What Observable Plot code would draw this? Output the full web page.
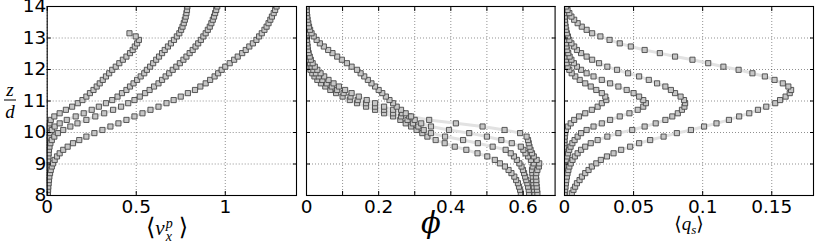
<!DOCTYPE html>
<html><head><meta charset="utf-8">
<script src="https://cdn.jsdelivr.net/npm/d3@7"></script>
<script src="https://cdn.jsdelivr.net/npm/@observablehq/plot@0.6"></script>
<style>
body{margin:0;background:#fff;}
#wrap{position:relative;width:830px;height:245px;overflow:hidden;}
.panel{position:absolute;top:0;}
.lab{position:absolute;color:#000;white-space:nowrap;transform:translate(-50%,-50%);font-family:"Liberation Serif","DejaVu Serif",serif;line-height:1;}
.lab i{font-style:italic;}
.br{font-family:"DejaVu Sans";font-style:normal;}
.ss{display:inline-flex;flex-direction:column;vertical-align:middle;line-height:0.95;font-size:14px;font-style:italic;margin-left:1px;}
</style></head><body><div id="wrap"></div>
<script>
// z/d levels (shared by all profiles)
const z = [8.07,8.18,8.28,8.39,8.49,8.60,8.71,8.81,8.92,9.02,9.13,9.24,9.34,9.45,9.55,9.66,9.76,9.87,9.98,10.08,
  10.19,10.29,10.40,10.51,10.61,10.72,10.82,10.93,11.03,11.14,11.25,11.35,11.46,11.56,11.67,11.78,11.88,11.99,12.09,12.20,
  12.31,12.41,12.52,12.62,12.73,12.83,12.94,13.05,13.15,13.26,13.36,13.47,13.58,13.68,13.79,13.89,14.00];

// <v_x^p> profiles
const vx1 = [0.000,0.000,0.001,0.001,0.001,0.001,0.002,0.002,0.002,0.003,0.003,0.004,0.004,0.005,0.005,0.006,0.006,0.007,0.008,0.009,
  0.010,0.013,0.020,0.040,0.070,0.105,0.140,0.172,0.198,0.220,0.240,0.260,0.278,0.295,0.312,0.330,0.348,0.365,0.385,0.405,
  0.425,0.445,0.465,0.480,0.492,0.505,0.515,0.497,0.462];
const vx2 = [0.001,0.001,0.001,0.001,0.002,0.002,0.002,0.002,0.003,0.003,0.003,0.004,0.004,0.005,0.006,0.007,0.009,0.012,0.017,0.026,
  0.042,0.070,0.110,0.160,0.205,0.250,0.290,0.330,0.365,0.395,0.420,0.445,0.465,0.485,0.505,0.525,0.545,0.560,0.578,0.595,
  0.612,0.628,0.645,0.660,0.678,0.695,0.712,0.728,0.742,0.752,0.760,0.767,0.773,0.778,0.782,0.785,0.787];
const vx3 = [0.002,0.002,0.002,0.003,0.003,0.003,0.004,0.004,0.005,0.005,0.006,0.007,0.008,0.010,0.013,0.018,0.026,0.040,0.060,0.090,
  0.130,0.170,0.220,0.270,0.320,0.370,0.415,0.455,0.490,0.520,0.550,0.575,0.600,0.625,0.645,0.665,0.685,0.705,0.725,0.745,
  0.765,0.782,0.800,0.817,0.833,0.848,0.863,0.877,0.890,0.902,0.913,0.922,0.930,0.937,0.943,0.949,0.955];
const vx4 = [0.004,0.005,0.006,0.008,0.010,0.012,0.016,0.020,0.026,0.033,0.042,0.055,0.070,0.090,0.115,0.145,0.180,0.220,0.265,0.310,
  0.355,0.400,0.445,0.490,0.535,0.580,0.625,0.670,0.710,0.750,0.790,0.830,0.860,0.890,0.915,0.940,0.960,0.980,1.000,1.025,
  1.050,1.070,1.095,1.115,1.135,1.155,1.175,1.190,1.205,1.220,1.232,1.243,1.253,1.262,1.272,1.280,1.288];

// phi profiles
const phi1 = [0.594,0.592,0.589,0.586,0.581,0.576,0.568,0.560,0.550,0.536,0.522,0.501,0.474,0.443,0.411,0.383,0.358,0.335,0.321,0.305,
  0.290,0.275,0.260,0.240,0.215,0.190,0.165,0.140,0.120,0.100,0.082,0.066,0.052,0.040,0.030,0.022,0.016,0.011,0.008,0.005,
  0.003,0.002,0.001,0.001,0.0005,0,0,0,0,0,0,0,0,0,0,0,0];
const phi2 = [0.617,0.616,0.614,0.612,0.609,0.606,0.603,0.600,0.596,0.590,0.583,0.575,0.566,0.552,0.516,0.475,0.434,0.384,0.345,0.325,
  0.310,0.295,0.280,0.262,0.240,0.215,0.190,0.165,0.142,0.122,0.103,0.085,0.070,0.056,0.044,0.034,0.026,0.019,0.014,0.010,
  0.007,0.005,0.003,0.002,0.001,0.001,0.0005,0,0,0,0,0,0,0,0,0,0];
const phi3 = [0.632,0.631,0.630,0.629,0.628,0.627,0.626,0.625,0.627,0.630,0.622,0.614,0.607,0.601,0.594,0.569,0.540,0.500,0.451,0.395,
  0.345,0.318,0.300,0.285,0.265,0.240,0.215,0.190,0.167,0.145,0.125,0.107,0.090,0.075,0.061,0.049,0.039,0.030,0.023,0.017,
  0.012,0.009,0.006,0.004,0.003,0.002,0.001,0.001,0.0005,0,0,0,0,0,0,0,0];
const phi4 = [0.640,0.639,0.638,0.637,0.637,0.636,0.637,0.640,0.644,0.645,0.638,0.630,0.625,0.621,0.618,0.616,0.614,0.610,0.592,0.549,
  0.488,0.414,0.340,0.290,0.275,0.262,0.250,0.240,0.230,0.220,0.210,0.200,0.190,0.180,0.170,0.160,0.150,0.140,0.125,0.112,
  0.098,0.085,0.072,0.060,0.048,0.037,0.028,0.020,0.014,0.010,0.007,0.005,0.003,0.002,0.001,0.0005,0];

// <q_s> profiles
const qs1 = [0,0,0,0,0,0,0,0,0,0,0,0,0,0,0,0,0,0.0002,0.0005,0.001,
  0.0025,0.0045,0.007,0.0105,0.015,0.0198,0.024,0.027,0.0302,0.0295,0.027,0.023,0.019,0.015,0.011,0.0078,0.0052,0.0035,0.0023,0.0015,
  0.001,0.0006,0.0004,0.0002,0.0001,0.0001,0,0,0,0,0,0,0,0,0,0,0];
const qs2 = [0,0,0.0001,0.0002,0.0003,0.0004,0.0005,0.0007,0.0009,0.0012,0.0015,0.002,0.0026,0.0034,0.0044,0.0057,0.0073,0.0095,0.012,0.016,
  0.021,0.027,0.033,0.040,0.047,0.053,0.057,0.0589,0.057,0.054,0.050,0.045,0.039,0.033,0.027,0.021,0.016,0.012,0.009,0.0068,
  0.005,0.0037,0.0027,0.002,0.0014,0.001,0.0007,0.0005,0.0003,0.0002,0.0001,0.0001,0,0,0,0,0];
const qs3 = [0,0.0005,0.0007,0.001,0.0013,0.0017,0.0022,0.0028,0.0035,0.0045,0.0058,0.0075,0.0095,0.012,0.015,0.019,0.024,0.031,0.039,0.049,
  0.058,0.066,0.073,0.078,0.082,0.085,0.0868,0.0873,0.0865,0.084,0.080,0.077,0.073,0.067,0.061,0.054,0.046,0.038,0.031,0.025,
  0.020,0.016,0.012,0.009,0.007,0.005,0.0035,0.0025,0.0017,0.0012,0.0008,0.0005,0.0003,0.0002,0.0001,0,0];
const qs4 = [0.0053,0.0065,0.0077,0.009,0.0109,0.0126,0.015,0.0174,0.0198,0.023,0.0263,0.0307,0.0355,0.041,0.0475,0.054,0.062,0.0717,0.0813,0.0915,
  0.101,0.110,0.119,0.1264,0.1337,0.140,0.146,0.1525,0.156,0.160,0.163,0.164,0.162,0.158,0.152,0.145,0.136,0.126,0.115,0.104,
  0.0926,0.080,0.069,0.058,0.048,0.040,0.0326,0.026,0.020,0.016,0.0125,0.0095,0.007,0.005,0.0035,0.0022,0.0012];

// ticks
const zTicks = [8, 9, 10, 11, 12, 13, 14];
const zGrid = [9, 10, 11, 12, 13];
const vxTicks = [0, 0.5, 1];
const phiTicks = [0, 0.1, 0.2, 0.3, 0.4, 0.5, 0.6];
const phiLabels = [0, 0.2, 0.4, 0.6];
const qsTicks = [0, 0.05, 0.1, 0.15];

function rows(series) {
  const out = [];
  series.forEach((arr, s) => arr.forEach((v, k) => out.push({s, z: z[k], v})));
  return out;
}

const H = 245, MT = 6, MB = 50;
const wrap = document.getElementById("wrap");

function panel({data, domain, ticks, labels, grid, left, width, mL, mR, yLabels}) {
  const marks = [
    Plot.gridX(grid, {stroke: "#000", strokeOpacity: 0.55, strokeDasharray: "1,2", strokeWidth: 0.8}),
    Plot.gridY(zGrid, {stroke: "#000", strokeOpacity: 0.55, strokeDasharray: "1,2", strokeWidth: 0.8}),
    Plot.line(data, {x: "v", y: "z", z: "s", stroke: "#e2e2e2", strokeWidth: 3, clip: true}),
    Plot.dot(data, {x: "v", y: "z", symbol: "square", r: 2.9, fill: "#c6c6c6", stroke: "#474747", strokeWidth: 0.9, clip: true}),
    Plot.axisX(ticks, {anchor: "bottom", tickSize: -4, tickPadding: 0, tickFormat: () => "", label: null}),
    Plot.axisX(labels, {anchor: "bottom", tickSize: 0, tickPadding: 4, tickFormat: d => String(d), fontSize: 18.5, label: null}),
    Plot.axisX(ticks, {anchor: "top", tickSize: -4, tickFormat: () => "", label: null}),
    Plot.axisY(zTicks, {anchor: "left", tickSize: -4, tickFormat: yLabels ? (d => String(d)) : () => "", tickPadding: yLabels ? 5 : 0, fontSize: 18.5, label: null}),
    Plot.axisY(zTicks, {anchor: "right", tickSize: -4, tickFormat: () => "", label: null}),
    Plot.frame({stroke: "#000", strokeWidth: 1.1})
  ];
  const p = Plot.plot({
    width, height: H, marginTop: MT, marginBottom: MB, marginLeft: mL, marginRight: mR,
    x: {domain, axis: null},
    y: {domain: [8, 14], axis: null},
    style: {background: "transparent", overflow: "visible", fontFamily: "DejaVu Sans", fontSize: "18px", color: "#000"},
    marks
  });
  p.classList.add("panel");
  p.style.left = left + "px";
  wrap.appendChild(p);
}

panel({data: rows([vx1, vx2, vx3, vx4]), domain: [0, 1.4], ticks: vxTicks, labels: vxTicks, grid: vxTicks, left: 0, width: 301, mL: 46.7, mR: 5, yLabels: true});
panel({data: rows([phi1, phi2, phi3, phi4]), domain: [0, 0.689], ticks: phiTicks, labels: phiLabels, grid: phiTicks, left: 300.7, width: 258.6, mL: 5, mR: 5, yLabels: false});
panel({data: rows([qs1, qs2, qs3, qs4]), domain: [0, 0.1802], ticks: qsTicks, labels: qsTicks, grid: qsTicks, left: 559.3, width: 259, mL: 5, mR: 5, yLabels: false});

function label(html, x, y, size) {
  const d = document.createElement("div");
  d.className = "lab";
  d.style.left = x + "px";
  d.style.top = y + "px";
  d.style.fontSize = size + "px";
  d.innerHTML = html;
  wrap.appendChild(d);
}
label('<span class="br" style="font-size:24px">⟨</span><i>v</i><span class="ss"><span>p</span><span>x</span></span><span class="br" style="font-size:24px;margin-left:6px">⟩</span>', 167, 229, 21);
label('<i style="font-family:\'DejaVu Serif\'">ϕ</i>', 431, 223, 29);
label('<span class="br" style="font-size:19px">⟨</span><i>q</i><sub style="font-size:13px;font-style:italic;line-height:0">s</sub><span class="br" style="font-size:19px">⟩</span>', 689, 223, 19);
label('<span style="display:inline-flex;flex-direction:column;align-items:center;line-height:1"><i>z</i><span style="border-top:1px solid #000;width:12px;margin:1px 0"></span><i>d</i></span>', 10, 100, 19);
</script></body></html>
